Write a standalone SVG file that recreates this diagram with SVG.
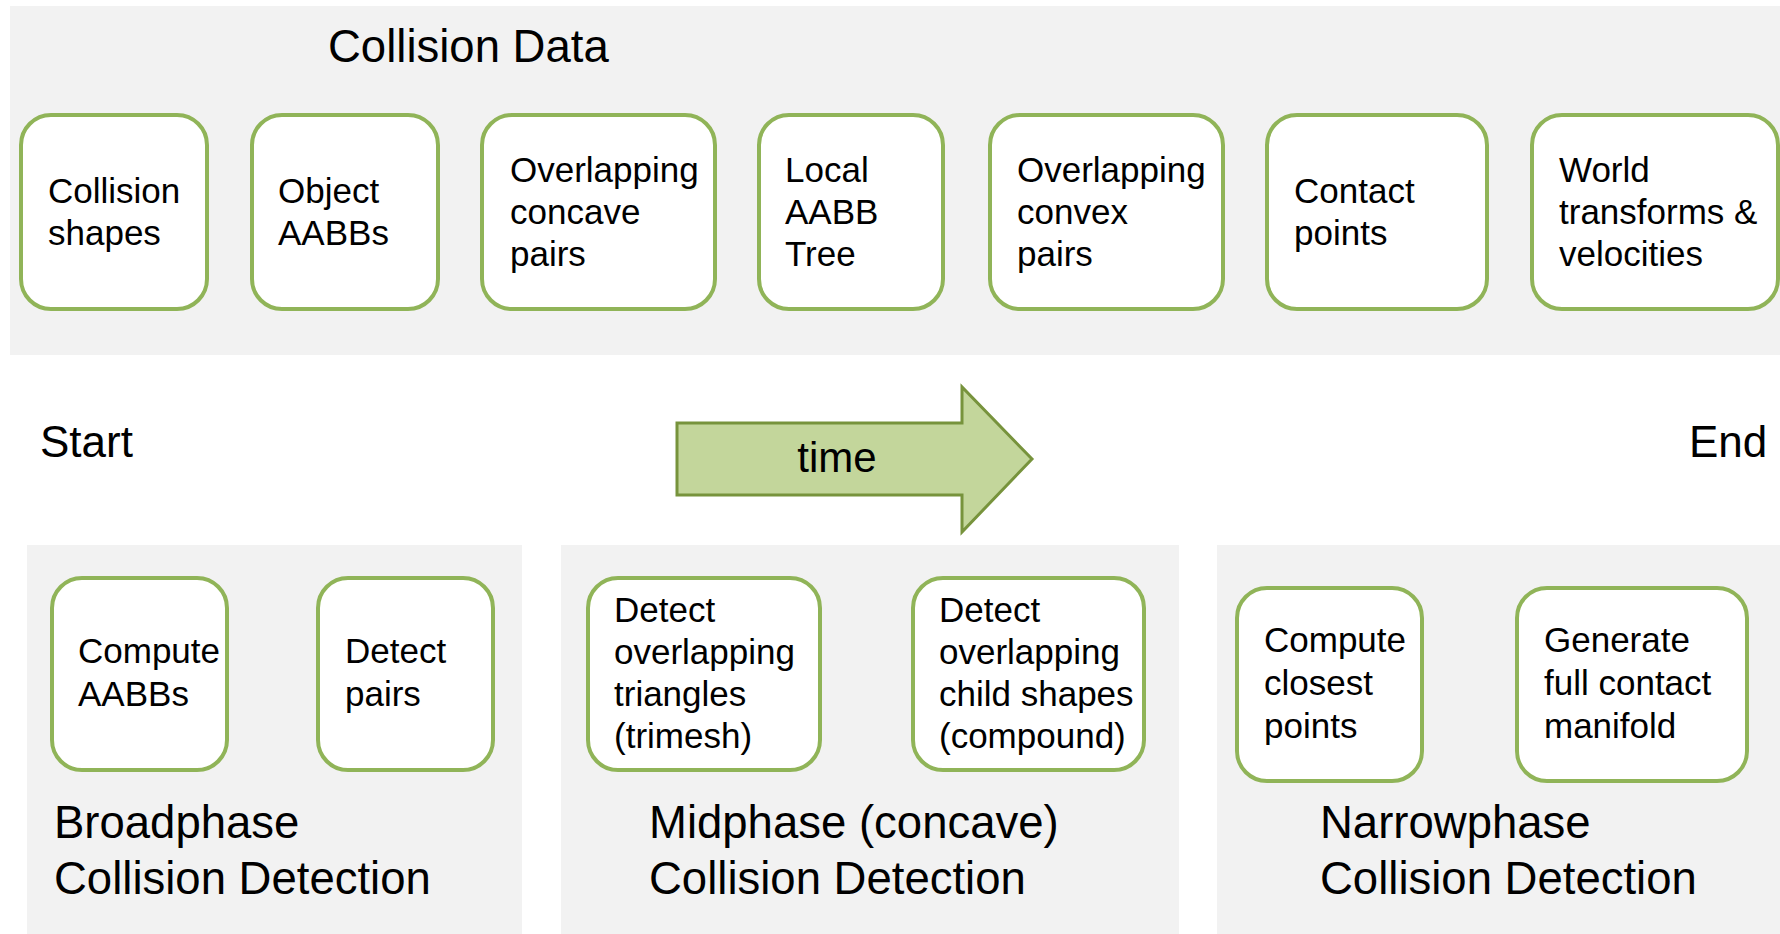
<svg xmlns="http://www.w3.org/2000/svg" width="1780" height="934" viewBox="0 0 1780 934">
<style>
  .panel { fill: #f2f2f2; }
  .box { fill: #ffffff; stroke: #90b458; stroke-width: 4; }
  .t { font-family: "Liberation Sans", Arial, sans-serif; font-size: 35px; fill: #000000; }
  .big { font-family: "Liberation Sans", Arial, sans-serif; font-size: 45.5px; fill: #000000; }
  .se { font-family: "Liberation Sans", Arial, sans-serif; font-size: 44px; fill: #000000; }
  .arrow { fill: #c3d69b; stroke: #77933c; stroke-width: 3; }
</style>
<rect width="1780" height="934" fill="#ffffff"/>

<g id="collision-data">
  <rect class="panel" x="10" y="6" width="1775" height="349"/>
  <text class="big" x="328" y="62">Collision Data</text>
</g>

<g id="collision-shapes">
  <rect class="box" x="21" y="115" width="186" height="194" rx="30"/>
  <text class="t" x="48" y="203">Collision</text>
  <text class="t" x="48" y="245">shapes</text>
</g>
<g id="object-aabbs">
  <rect class="box" x="252" y="115" width="186" height="194" rx="30"/>
  <text class="t" x="278" y="203">Object</text>
  <text class="t" x="278" y="245">AABBs</text>
</g>
<g id="overlapping-concave-pairs">
  <rect class="box" x="482" y="115" width="233" height="194" rx="30"/>
  <text class="t" x="510" y="182">Overlapping</text>
  <text class="t" x="510" y="224">concave</text>
  <text class="t" x="510" y="266">pairs</text>
</g>
<g id="local-aabb-tree">
  <rect class="box" x="759" y="115" width="184" height="194" rx="30"/>
  <text class="t" x="785" y="182">Local</text>
  <text class="t" x="785" y="224">AABB</text>
  <text class="t" x="785" y="266">Tree</text>
</g>
<g id="overlapping-convex-pairs">
  <rect class="box" x="990" y="115" width="233" height="194" rx="30"/>
  <text class="t" x="1017" y="182">Overlapping</text>
  <text class="t" x="1017" y="224">convex</text>
  <text class="t" x="1017" y="266">pairs</text>
</g>
<g id="contact-points">
  <rect class="box" x="1267" y="115" width="220" height="194" rx="30"/>
  <text class="t" x="1294" y="203">Contact</text>
  <text class="t" x="1294" y="245">points</text>
</g>
<g id="world-transforms">
  <rect class="box" x="1532" y="115" width="246" height="194" rx="30"/>
  <text class="t" x="1559" y="182">World</text>
  <text class="t" x="1559" y="224">transforms &amp;</text>
  <text class="t" x="1559" y="266">velocities</text>
</g>

<g id="start">
  <text class="se" x="40" y="457">Start</text>
</g>
<g id="end">
  <text class="se" x="1689" y="457">End</text>
</g>

<g id="connectors">
  <g id="time-arrow">
    <polygon class="arrow" points="677,423 962,423 962,387 1032,459 962,532 962,495 677,495"/>
    <text x="837" y="472" text-anchor="middle" font-family="'Liberation Sans', Arial, sans-serif" font-size="42" fill="#000000">time</text>
  </g>
</g>

<g id="broadphase">
  <rect class="panel" x="27" y="545" width="495" height="389"/>
  <text class="big" x="54" y="838">Broadphase</text>
  <text class="big" x="54" y="894">Collision Detection</text>
</g>
<g id="compute-aabbs">
  <rect class="box" x="52" y="578" width="175" height="192" rx="30"/>
  <text class="t" x="78" y="663">Compute</text>
  <text class="t" x="78" y="706">AABBs</text>
</g>
<g id="detect-pairs">
  <rect class="box" x="318" y="578" width="175" height="192" rx="30"/>
  <text class="t" x="345" y="663">Detect</text>
  <text class="t" x="345" y="706">pairs</text>
</g>

<g id="midphase">
  <rect class="panel" x="561" y="545" width="618" height="389"/>
  <text class="big" x="649" y="838">Midphase (concave)</text>
  <text class="big" x="649" y="894">Collision Detection</text>
</g>
<g id="detect-triangles">
  <rect class="box" x="588" y="578" width="232" height="192" rx="30"/>
  <text class="t" x="614" y="622">Detect</text>
  <text class="t" x="614" y="664">overlapping</text>
  <text class="t" x="614" y="706">triangles</text>
  <text class="t" x="614" y="748">(trimesh)</text>
</g>
<g id="detect-child-shapes">
  <rect class="box" x="913" y="578" width="231" height="192" rx="30"/>
  <text class="t" x="939" y="622">Detect</text>
  <text class="t" x="939" y="664">overlapping</text>
  <text class="t" x="939" y="706">child shapes</text>
  <text class="t" x="939" y="748">(compound)</text>
</g>

<g id="narrowphase">
  <rect class="panel" x="1217" y="545" width="568" height="389"/>
  <text class="big" x="1320" y="838">Narrowphase</text>
  <text class="big" x="1320" y="894">Collision Detection</text>
</g>
<g id="compute-closest-points">
  <rect class="box" x="1237" y="588" width="185" height="193" rx="30"/>
  <text class="t" x="1264" y="652">Compute</text>
  <text class="t" x="1264" y="695">closest</text>
  <text class="t" x="1264" y="738">points</text>
</g>
<g id="generate-manifold">
  <rect class="box" x="1517" y="588" width="230" height="193" rx="30"/>
  <text class="t" x="1544" y="652">Generate</text>
  <text class="t" x="1544" y="695">full contact</text>
  <text class="t" x="1544" y="738">manifold</text>
</g>
</svg>
